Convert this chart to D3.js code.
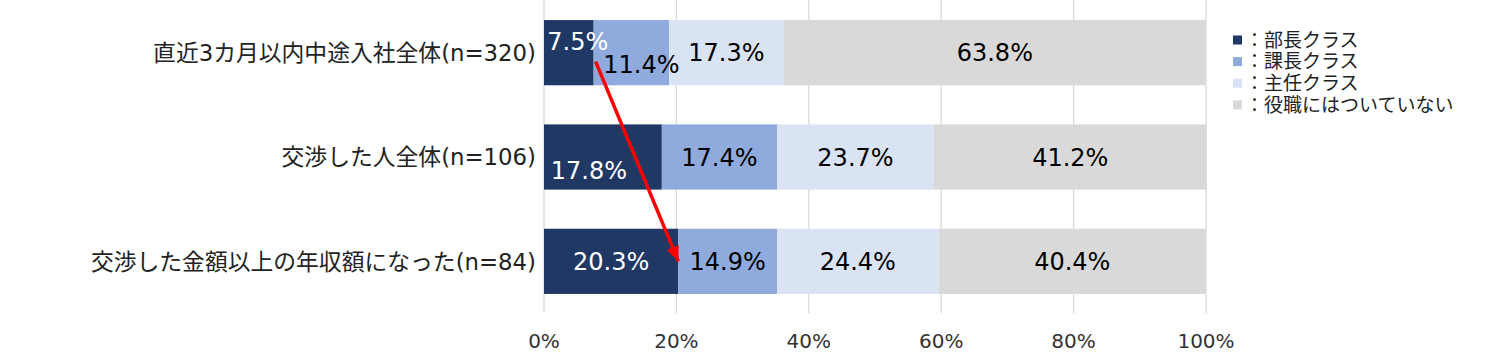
<!DOCTYPE html>
<html>
<head>
<meta charset="utf-8">
<script src="https://cdn.jsdelivr.net/npm/d3@7"></script>
<style>
  body { margin: 0; background: #fff; }
  text { font-family: "DejaVu Sans", "Noto Sans CJK JP", sans-serif; }
</style>
</head>
<body>
<svg id="chart"></svg>
<script>
// categories (top to bottom)
var categories = ["直近3カ月以内中途入社全体(n=320)", "交渉した人全体(n=106)", "交渉した金額以上の年収額になった(n=84)"];

// series
var seriesNames = ["：部長クラス", "：課長クラス", "：主任クラス", "：役職にはついていない"];
var buchou = [7.5, 17.8, 20.3];
var kachou = [11.4, 17.4, 14.9];
var shunin = [17.3, 23.7, 24.4];
var nashi = [63.8, 41.2, 40.4];

var tickValues = [0, 20, 40, 60, 80, 100];
var tickLabels = ["0%", "20%", "40%", "60%", "80%", "100%"];

var colors = ["#203864", "#8FAADC", "#DAE3F3", "#D9D9D9"];
var labelColors = ["#fff", "#000", "#000", "#000"];

// labels that were moved by hand in the original (series index, row index)
var labelNudge = {
    "0-0": { dx: 9, dy: -11 },
    "1-0": { dx: 10, dy: 12 },
    "0-1": { dx: -14, dy: 13 }
};

var width = 1497, height = 353;
var svg = d3.select("#chart")
    .attr("width", width)
    .attr("height", height)
    .attr("viewBox", "0 0 " + width + " " + height);

var values = [buchou, kachou, shunin, nashi];
var rows = categories.map(function (c, i) {
    var r = { cat: c };
    seriesNames.forEach(function (s, k) { r[k] = values[k][i]; });
    return r;
});
var stacked = d3.stack().keys([0, 1, 2, 3])(rows);

var x = d3.scaleLinear().domain([0, 100]).range([544, 1206]);
var y = d3.scaleBand().domain(categories).range([0.5, 313.5])
    .paddingInner(0.375).paddingOuter(0.1875);

// gridlines
svg.append("g")
    .selectAll("line")
    .data(tickValues)
    .join("line")
    .attr("x1", d => x(d)).attr("x2", d => x(d))
    .attr("y1", 0).attr("y2", 313)
    .attr("stroke", "#D9D9D9")
    .attr("stroke-width", 1.3);

// x tick labels
svg.append("g")
    .selectAll("text")
    .data(tickValues)
    .join("text")
    .attr("x", d => x(d))
    .attr("y", 348)
    .attr("text-anchor", "middle")
    .attr("font-size", 20)
    .attr("fill", "#333")
    .text((d, i) => tickLabels[i]);

// bars
var layer = svg.append("g")
    .selectAll("g")
    .data(stacked)
    .join("g")
    .attr("fill", d => colors[d.key]);

layer.selectAll("rect")
    .data(d => d)
    .join("rect")
    .attr("x", d => x(d[0]))
    .attr("width", d => x(d[1]) - x(d[0]))
    .attr("y", d => y(d.data.cat))
    .attr("height", y.bandwidth());

// data labels
stacked.forEach(function (s) {
    s.forEach(function (d, i) {
        var n = labelNudge[s.key + "-" + i] || { dx: 0, dy: 0 };
        svg.append("text")
            .attr("x", (x(d[0]) + x(d[1])) / 2 + n.dx)
            .attr("y", y(d.data.cat) + y.bandwidth() / 2 + n.dy)
            .attr("dy", "0.36em")
            .attr("text-anchor", "middle")
            .attr("font-size", 24)
            .attr("fill", labelColors[s.key])
            .text(d3.format(".1f")(d.data[s.key]) + "%");
    });
});

// category labels
svg.append("g")
    .selectAll("text")
    .data(categories)
    .join("text")
    .attr("x", 536)
    .attr("y", d => y(d) + y.bandwidth() / 2)
    .attr("dy", "0.36em")
    .attr("text-anchor", "end")
    .attr("font-size", 22.8)
    .attr("fill", "#222")
    .text(d => d);

// red arrow from the first row's 部長 end to the last row's
svg.append("defs").append("marker")
    .attr("id", "head")
    .attr("markerUnits", "userSpaceOnUse")
    .attr("viewBox", "0 0 15 13")
    .attr("refX", 15).attr("refY", 6.5)
    .attr("markerWidth", 15).attr("markerHeight", 13)
    .attr("orient", "auto")
    .append("path")
    .attr("d", "M0,0 L15,6.5 L0,13 Z")
    .attr("fill", "#FF0000");

var last = categories.length - 1;
svg.append("line")
    .attr("x1", x(buchou[0]) + 2)
    .attr("y1", y(categories[0]) + y.bandwidth() / 2 + 9)
    .attr("x2", x(buchou[last]))
    .attr("y2", y(categories[last]) + y.bandwidth() / 2)
    .attr("stroke", "#FF0000")
    .attr("stroke-width", 3.5)
    .attr("marker-end", "url(#head)");

// legend
var legend = svg.append("g")
    .selectAll("g")
    .data(seriesNames)
    .join("g")
    .attr("transform", (d, i) => "translate(1233," + (40 + i * 21.6) + ")");

legend.append("rect")
    .attr("x", 0).attr("y", -4.5)
    .attr("width", 9).attr("height", 9)
    .attr("fill", (d, i) => colors[i]);

legend.append("text")
    .attr("x", 12)
    .attr("dy", "0.36em")
    .attr("font-size", 19)
    .attr("fill", "#222")
    .text(d => d);
</script>
</body>
</html>
